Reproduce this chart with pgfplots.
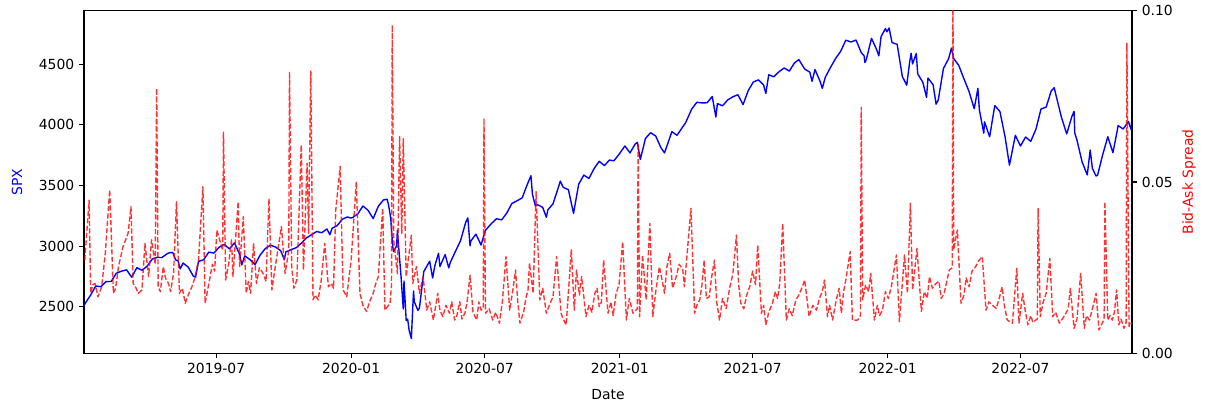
\documentclass[border=0pt]{standalone}
\usepackage{pgfplots}
\pgfplotsset{compat=1.18}
\usepackage{pgfplotstable}
\usepackage{fontspec}
\setmainfont{DejaVu Sans}

% x = days since 2019-01-01
\pgfplotstableread{
day spx
1 2510
3 2532
10 2596
17 2671
24 2665
31 2707
38 2708
45 2776
52 2793
59 2804
66 2743
73 2822
80 2800
87 2834
94 2893
101 2907
107 2905
115 2940
119 2946
122 2946
126 2884
129 2881
132 2812
136 2860
143 2826
150 2752
153 2744
157 2873
164 2887
171 2950
178 2942
185 2990
192 3014
199 2977
206 3026
213 2932
216 2845
220 2919
227 2889
234 2847
241 2926
248 2979
255 3007
262 2992
269 2962
274 2887
276 2952
283 2970
290 2986
297 3023
304 3067
311 3093
318 3120
325 3110
332 3141
336 3093
339 3146
346 3169
353 3221
360 3240
364 3231
367 3235
374 3265
381 3330
388 3295
395 3226
402 3328
409 3380
414 3386
416 3338
419 3226
420 3128
422 2979
423 2954
427 3003
428 3130
430 2972
433 2747
436 2481
437 2711
440 2386
442 2398
444 2305
447 2237
450 2630
451 2541
456 2470
458 2489
464 2790
472 2875
476 2737
479 2837
484 2940
486 2831
493 2930
498 2820
500 2864
507 2955
514 3044
521 3194
524 3232
527 3002
528 3041
535 3098
542 3009
548 3130
556 3185
563 3225
570 3216
577 3271
584 3351
591 3373
598 3397
605 3508
610 3580
612 3427
616 3332
619 3341
626 3319
631 3237
633 3298
640 3348
647 3477
650 3535
654 3483
661 3465
668 3270
675 3509
682 3585
689 3557
696 3638
703 3699
710 3663
717 3709
723 3703
730 3756
738 3825
745 3768
752 3841
755 3855
759 3714
766 3887
773 3934
780 3907
787 3811
792 3768
802 3943
809 3913
816 3975
821 4020
829 4129
836 4185
843 4180
850 4181
857 4233
862 4063
864 4174
871 4156
878 4204
885 4230
892 4247
899 4166
906 4281
913 4352
920 4370
927 4327
930 4258
934 4412
941 4395
948 4437
955 4468
962 4442
969 4509
975 4537
983 4459
990 4433
993 4358
997 4455
1004 4357
1007 4300
1011 4391
1018 4471
1025 4545
1032 4605
1039 4697
1046 4682
1053 4698
1060 4595
1064 4567
1065 4513
1067 4538
1074 4712
1081 4620
1084 4568
1087 4725
1093 4793
1095 4766
1098 4797
1102 4677
1109 4663
1116 4398
1122 4326
1126 4516
1128 4589
1130 4501
1135 4587
1137 4419
1144 4349
1149 4226
1151 4385
1158 4329
1162 4170
1165 4204
1172 4463
1179 4543
1183 4632
1186 4546
1193 4488
1199 4393
1207 4272
1214 4132
1219 4300
1221 4123
1227 3930
1228 4024
1235 3901
1242 4158
1249 4109
1256 3901
1262 3667
1270 3912
1277 3825
1284 3899
1291 3863
1298 3962
1305 4130
1312 4145
1319 4280
1323 4305
1326 4228
1333 4058
1340 3924
1347 4067
1350 4110
1351 3932
1354 3873
1361 3693
1368 3586
1372 3791
1375 3640
1380 3577
1382 3583
1389 3752
1396 3901
1403 3770
1409 3956
1410 3993
1417 3965
1424 4026
1428 3958
1429 4080
}\spxtable

\pgfplotstableread{
day spread
2 0.0272
8 0.0447
10 0.0175
13 0.0200
16 0.0204
20 0.0165
25 0.0194
30 0.0292
36 0.0477
41 0.0175
44 0.0190
48 0.0253
54 0.0310
61 0.0350
65 0.0428
68 0.0204
72 0.0190
75 0.0175
80 0.0185
84 0.0321
89 0.0224
93 0.0331
98 0.0260
100 0.0773
102 0.0194
105 0.0180
109 0.0253
112 0.0220
116 0.0204
119 0.0180
123 0.0233
127 0.0442
131 0.0175
135 0.0190
139 0.0146
143 0.0170
148 0.0194
152 0.0220
157 0.0272
163 0.0486
166 0.0146
169 0.0180
172 0.0214
176 0.0260
179 0.0240
182 0.0360
190 0.0300
191 0.0647
194 0.0214
198 0.0260
202 0.0331
204 0.0224
211 0.0442
213 0.0253
218 0.0399
222 0.0175
225 0.0210
228 0.0175
232 0.0321
236 0.0204
240 0.0250
245 0.0233
249 0.0210
253 0.0452
257 0.0185
260 0.0230
263 0.0272
270 0.0370
275 0.0233
280 0.0300
281 0.0822
284 0.0253
287 0.0190
291 0.0214
297 0.0608
300 0.0243
305 0.0555
307 0.0350
310 0.0824
313 0.0156
316 0.0170
320 0.0156
324 0.0210
329 0.0321
334 0.0194
338 0.0204
341 0.0190
344 0.0418
350 0.0545
354 0.0185
359 0.0165
362 0.0220
365 0.0272
372 0.0501
377 0.0175
381 0.0140
386 0.0122
390 0.0150
395 0.0175
398 0.0200
402 0.0224
408 0.0424
411 0.0126
418 0.0146
420 0.0200
421 0.0958
423 0.0331
428 0.0233
431 0.0632
434 0.0350
436 0.0627
440 0.0224
447 0.0345
449 0.0204
454 0.0253
458 0.0175
463 0.0224
468 0.0126
472 0.0150
477 0.0097
483 0.0175
486 0.0125
490 0.0107
494 0.0140
499 0.0117
502 0.0150
506 0.0097
509 0.0110
513 0.0151
516 0.0100
520 0.0117
523 0.0150
527 0.0228
531 0.0120
536 0.0097
539 0.0150
542 0.0126
545 0.0130
546 0.0686
548 0.0117
553 0.0130
558 0.0097
562 0.0120
567 0.0088
571 0.0150
576 0.0282
581 0.0126
585 0.0180
589 0.0243
592 0.0150
595 0.0088
600 0.0120
603 0.0160
606 0.0185
608 0.0263
613 0.0175
617 0.0472
622 0.0156
626 0.0190
631 0.0117
635 0.0140
640 0.0165
645 0.0282
651 0.0117
654 0.0100
658 0.0083
665 0.0302
669 0.0126
672 0.0243
676 0.0170
679 0.0224
685 0.0107
689 0.0140
693 0.0120
697 0.0175
700 0.0190
703 0.0136
706 0.0150
709 0.0272
715 0.0117
719 0.0150
722 0.0110
726 0.0175
730 0.0200
735 0.0326
740 0.0097
744 0.0160
749 0.0117
755 0.0130
756 0.0613
758 0.0107
762 0.0287
767 0.0156
772 0.0379
776 0.0107
780 0.0180
785 0.0253
789 0.0210
792 0.0175
795 0.0250
799 0.0292
803 0.0190
808 0.0224
812 0.0260
817 0.0243
819 0.0194
828 0.0423
833 0.0117
836 0.0140
840 0.0156
843 0.0200
846 0.0272
849 0.0160
853 0.0165
856 0.0220
860 0.0272
863 0.0150
867 0.0097
871 0.0160
876 0.0130
881 0.0194
885 0.0230
890 0.0345
893 0.0200
896 0.0146
900 0.0130
904 0.0170
908 0.0194
912 0.0240
916 0.0200
919 0.0316
924 0.0117
927 0.0140
930 0.0083
934 0.0120
939 0.0146
943 0.0180
946 0.0160
949 0.0204
953 0.0379
958 0.0097
962 0.0130
966 0.0110
971 0.0156
975 0.0170
979 0.0190
983 0.0214
989 0.0107
994 0.0140
999 0.0126
1003 0.0160
1007 0.0180
1010 0.0214
1014 0.0107
1017 0.0140
1021 0.0097
1026 0.0156
1030 0.0190
1033 0.0117
1036 0.0180
1039 0.0214
1045 0.0297
1048 0.0097
1055 0.0097
1059 0.0110
1060 0.0718
1062 0.0156
1066 0.0200
1070 0.0180
1073 0.0233
1078 0.0097
1082 0.0140
1085 0.0110
1089 0.0126
1093 0.0180
1097 0.0160
1101 0.0194
1108 0.0287
1112 0.0092
1119 0.0287
1123 0.0175
1127 0.0438
1130 0.0185
1136 0.0306
1142 0.0122
1146 0.0180
1150 0.0160
1153 0.0224
1157 0.0190
1162 0.0204
1166 0.0210
1169 0.0160
1173 0.0175
1180 0.0243
1184 0.0250
1185 0.1050
1186 0.0302
1191 0.0360
1196 0.0146
1200 0.0170
1203 0.0220
1207 0.0194
1211 0.0240
1216 0.0253
1220 0.0270
1225 0.0282
1230 0.0126
1234 0.0150
1239 0.0140
1244 0.0131
1248 0.0160
1252 0.0194
1255 0.0140
1259 0.0097
1266 0.0088
1272 0.0248
1275 0.0088
1280 0.0175
1283 0.0130
1287 0.0083
1291 0.0110
1294 0.0090
1298 0.0097
1300 0.0100
1301 0.0423
1304 0.0107
1308 0.0150
1312 0.0175
1317 0.0277
1321 0.0107
1325 0.0120
1330 0.0088
1334 0.0100
1339 0.0117
1342 0.0130
1345 0.0190
1350 0.0073
1354 0.0100
1359 0.0233
1364 0.0073
1367 0.0110
1371 0.0097
1375 0.0130
1380 0.0175
1384 0.0068
1391 0.0100
1392 0.0442
1396 0.0097
1399 0.0110
1402 0.0097
1405 0.0120
1408 0.0185
1411 0.0083
1414 0.0100
1418 0.0073
1421 0.0090
1422 0.0905
1425 0.0078
1429 0.0090
}\spreadtable

\pgfplotsset{
  common/.style={
    scale only axis,
    width=754.6pt, height=246.7pt,
    at={(0,0)}, anchor=south west,
    xmin=1, xmax=1429,
    tick align=outside,
    major tick length=3.5pt,
    every tick/.style={black, line width=0.8pt},
    axis line style={black, line width=0.8pt},
    /pgf/number format/assume math mode=true,
    tick label style={font=\fontsize{10}{12}\selectfont, black},
    label style={font=\fontsize{10}{12}\selectfont},
  }
}

\begin{document}
\begin{tikzpicture}
\useasboundingbox (-60.5pt,-37.2pt) rectangle (808.6pt,254.4pt);
\begin{axis}[common,
  ymin=2116, ymax=4940,
  xtick pos=left, ytick pos=left,
  xtick={181,365,547,731,912,1096,1277},
  xticklabels={2019-07,2020-01,2020-07,2021-01,2021-07,2022-01,2022-07},
  ytick={2500,3000,3500,4000,4500},
  yticklabel style={/pgf/number format/1000 sep={}},
  scaled y ticks=false,
  xlabel={Date},
  ylabel={SPX},
  every axis x label/.style={at={(axis description cs:0.5,-0.12)}, anchor=center, font=\fontsize{10}{12}\selectfont},
  every axis y label/.style={at={(axis description cs:-0.0639,0.5)}, rotate=90, anchor=center, font=\fontsize{10}{12}\selectfont, text=blue},
]
\addplot[blue, line width=1pt, line join=round] table[x=day, y=spx] {\spxtable};
\end{axis}
\begin{axis}[common,
  ymin=0, ymax=0.1,
  axis x line=none,
  axis y line*=right,
  ytick={0,0.05,0.1},
  yticklabel style={/pgf/number format/.cd, fixed, fixed zerofill, precision=2},
  scaled y ticks=false,
  ylabel={Bid-Ask Spread},
  every axis y label/.style={at={(axis description cs:1.0543,0.5)}, rotate=90, anchor=center, font=\fontsize{10}{12}\selectfont, text=red},
]
\addplot[red, opacity=0.8, line width=1pt, dash pattern=on 3.7pt off 1.6pt, line join=round] table[x=day, y=spread] {\spreadtable};
\end{axis}
\end{tikzpicture}
\end{document}
